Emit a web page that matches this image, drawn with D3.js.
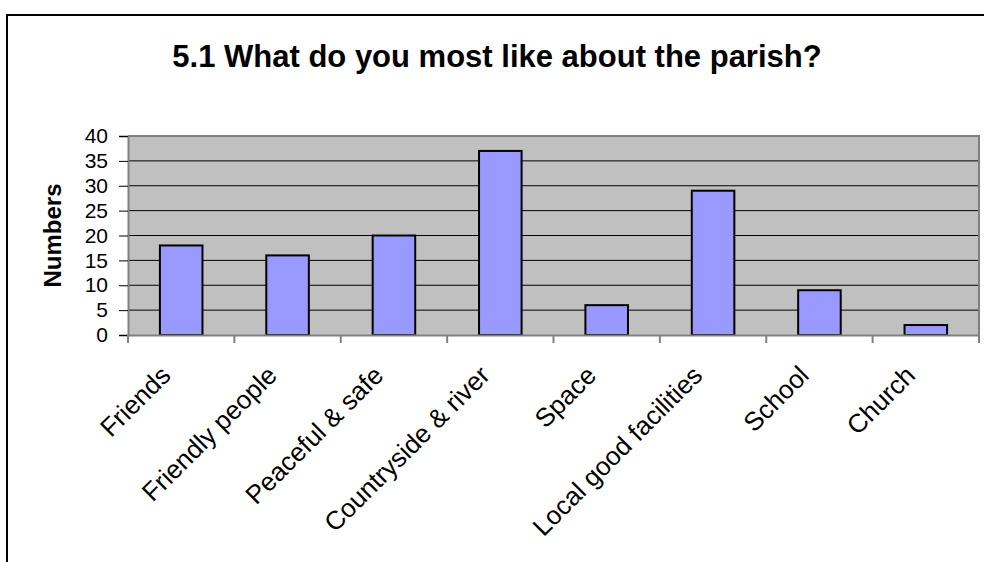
<!DOCTYPE html>
<html><head><meta charset="utf-8">
<script src="https://cdn.jsdelivr.net/npm/d3@7"></script>
<style>html,body{margin:0;padding:0;background:#fff;}svg{display:block;font-family:Arial,"Liberation Sans",sans-serif;}</style>
</head><body>
<script>
const categories = ["Friends","Friendly people","Peaceful & safe","Countryside & river","Space","Local good facilities","School","Church"];
const values = [18,16,20,37,6,29,9,2];
const yTicks = [0,5,10,15,20,25,30,35,40];
const titleText = "5.1 What do you most like about the parish?";
const yLabel = "Numbers";

const W = 984, H = 562;
const svg = d3.select("body").append("svg").attr("width", W).attr("height", H);

// outer chart border (top and left visible)
svg.append("path").attr("d", "M7,562V15H984").attr("fill","none").attr("stroke","#000").attr("stroke-width",2);

const pLeft = 128, pRight = 979, pTop = 136, pBottom = 335;
const x = d3.scaleBand().domain(categories).range([pLeft, pRight]).paddingInner(0).paddingOuter(0);
const y = d3.scaleLinear().domain([0, 40]).range([pBottom, pTop]);

// plot background
svg.append("rect").attr("x", pLeft).attr("y", pTop).attr("width", pRight-pLeft).attr("height", pBottom-pTop).attr("fill", "#C0C0C0");

// gridlines
svg.append("g").selectAll("line").data(yTicks.filter(d => d > 0 && d < 40)).join("line")
  .attr("x1", pLeft).attr("x2", pRight).attr("y1", d => y(d)).attr("y2", d => y(d))
  .attr("stroke", "#000").attr("stroke-width", 1);

// plot border top/right
svg.append("path").attr("d", `M${pLeft},${pTop}H${pRight}V${pBottom}`).attr("fill","none").attr("stroke","#808080").attr("stroke-width",2);

// bars
const bw = x.bandwidth() / 2.5;
svg.append("g").selectAll("rect").data(values).join("rect")
  .attr("x", (d,i) => x(categories[i]) + x.bandwidth()/2 - bw/2)
  .attr("y", d => y(d))
  .attr("width", bw)
  .attr("height", d => pBottom - y(d))
  .attr("fill", "#9999FF").attr("stroke", "#000").attr("stroke-width", 2);

// y axis
const yAxis = svg.append("g").attr("transform", `translate(${pLeft},0)`)
  .call(d3.axisLeft(y).tickValues(yTicks).tickSize(9).tickPadding(11));
yAxis.select(".domain").attr("stroke", "#808080").attr("stroke-width", 2);
yAxis.selectAll(".tick line").attr("stroke", "#000");
yAxis.selectAll(".tick text").attr("font-size", 21).attr("font-family", "Arial, 'Liberation Sans', sans-serif").attr("fill","#000");

// x axis
const xAxis = svg.append("g").attr("transform", `translate(0,${pBottom})`)
  .call(d3.axisBottom(x).tickSize(0).tickFormat(""));
xAxis.select(".domain").attr("stroke", "#808080").attr("stroke-width", 2);
const bounds = categories.map(c => x(c)).concat([pRight]);
xAxis.append("g").selectAll("line").data(bounds).join("line")
  .attr("x1", d => d).attr("x2", d => d).attr("y1", 0).attr("y2", 8)
  .attr("stroke", "#808080").attr("stroke-width", 2);

// x labels rotated
svg.append("g").selectAll("text").data(categories).join("text")
  .attr("transform", d => `translate(${x(d) + x.bandwidth()/2 - 9},${pBottom + 42}) rotate(-45)`)
  .attr("text-anchor", "end")
  .attr("font-size", 26)
  .attr("fill", "#000")
  .text(d => d);

// title
svg.append("text").attr("x", 497).attr("y", 67).attr("text-anchor","middle")
  .attr("font-size", 31).attr("font-weight","bold").attr("fill","#000").text(titleText);

// y label
svg.append("text").attr("transform", `translate(61,${(pTop+pBottom)/2}) rotate(-90)`)
  .attr("text-anchor","middle").attr("font-size", 24).attr("font-weight","bold").attr("fill","#000").text(yLabel);
</script>
</body></html>
